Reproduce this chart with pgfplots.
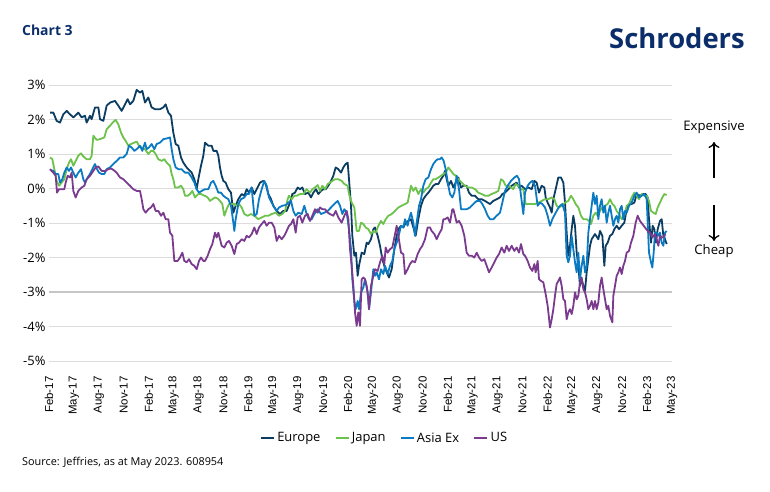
\documentclass[border=0pt]{standalone}
\usepackage{fontspec}
\setmainfont{Open Sans}
\newfontfamily\arialf{Liberation Sans}
\usepackage{pgfplots}
\pgfplotsset{compat=1.18}
\usetikzlibrary{arrows.meta}
\definecolor{cEurope}{HTML}{0B3D63}
\definecolor{cJapan}{HTML}{6CC24A}
\definecolor{cAsia}{HTML}{0A7AC2}
\definecolor{cUS}{HTML}{7A3B8F}
\definecolor{cNavy}{HTML}{0B2E6B}
\definecolor{cGrid}{HTML}{DCDCDC}
\begin{document}
\begin{tikzpicture}
\path (0bp,0bp) rectangle (770bp,492bp);
\node[anchor=west,font=\bfseries\fontsize{14}{16}\selectfont,text=cNavy,inner sep=0] at (22bp,462bp) {Chart 3};
\node[anchor=east,font=\bfseries\fontsize{27.5}{32}\selectfont,text=cNavy,inner sep=0] at (745bp,454bp) {Schroders};
\node[anchor=west,font=\fontsize{10.9}{13}\selectfont,inner sep=0] at (22bp,29bp) {Source: Jeffries, as at May 2023. 608954};
\node[font=\fontsize{13.2}{15}\selectfont,inner sep=0] at (714bp,365bp) {Expensive};
\node[font=\fontsize{13.2}{15}\selectfont,inner sep=0] at (714bp,241bp) {Cheap};
\draw[line width=1.3bp,-{To[length=6bp,width=11bp]}] (714bp,314bp) -- (714bp,350bp);
\draw[line width=1.3bp,-{To[length=6bp,width=11bp]}] (714bp,287bp) -- (714bp,251bp);
\begin{axis}[
  at={(49bp,131bp)}, anchor=south west,
  width=623bp, height=276bp, scale only axis,
  xmin=0, xmax=1869, ymin=-5, ymax=3,
  axis line style={draw=none},
  tick style={draw=none},
  ytick={-5,-4,-3,-2,-1,0,1,2,3},
  yticklabels={-5\%,-4\%,-3\%,-2\%,-1\%,0\%,1\%,2\%,3\%},
  yticklabel style={font=\fontsize{13}{15}\selectfont,anchor=east},
  ymajorgrids, grid style={cGrid,line width=1bp},
  extra y ticks={-3}, extra y tick labels={},
  extra y tick style={grid style={cGrid!90!black,line width=1.8bp}},
  xtick={0,74.76,149.52,224.28,299.04,373.8,448.56,523.32,598.08,672.84,747.6,822.36,897.12,971.88,1046.64,1121.4,1196.16,1270.92,1345.68,1420.44,1495.2,1569.96,1644.72,1719.48,1794.24,1869},
  xticklabels={Feb-17,May-17,Aug-17,Nov-17,Feb-17,May-18,Aug-18,Nov-18,Feb-19,May-19,Aug-19,Nov-19,Feb-20,May-20,Aug-20,Nov-20,Feb-21,May-21,Aug-21,Nov-21,Feb-22,May-22,Aug-22,Nov-22,Feb-23,May-23},
  xticklabel style={font=\arialf\fontsize{11.5}{13}\selectfont,rotate=90,anchor=east},
  xticklabel shift={12bp},
  every axis plot/.append style={line width=1.8bp, line join=round},
  legend style={at={(0.5385,-0.279)},anchor=center,draw=none,fill=none,font=\fontsize{13}{15}\selectfont,
    /tikz/every even column/.append style={column sep=12bp}},
  legend columns=4,
  legend image code/.code={\draw[#1,line width=2.4bp] (0bp,0bp) -- (13bp,0bp);},
  clip=false,
]
\addplot[cEurope] coordinates {
(3,2.20)(13,2.20)(23,1.96)(33,1.91)(43,2.15)(53,2.25)(63,2.15)(73,2.06)(83,2.15)(88,2.20)(98,2.06)(108,2.11)(113,1.91)(123,2.11)(128,2.01)(138,2.35)(148,2.35)(153,2.01)(163,1.96)(173,2.40)(183,2.49)(198,2.54)(208,2.40)(218,2.25)(228,2.44)(236,2.59)(243,2.44)(253,2.54)(263,2.86)(273,2.78)(280,2.83)(288,2.49)(298,2.64)(308,2.35)(318,2.30)(333,2.30)(343,2.35)(350,2.44)(358,2.20)(366,2.11)(373,1.62)(380,1.29)(388,1.24)(396,0.90)(403,0.75)(413,0.61)(428,0.46)(436,0.27)(443,-0.02)(448,0.27)(456,0.66)(463,0.95)
(468,1.33)(478,1.24)(488,1.24)(493,1.09)(503,1.09)(508,0.95)(513,0.61)(518,0.37)(523,0.22)(530,0.17)(538,-0.02)(546,-0.12)(553,-0.70)(560,-0.50)(568,-0.31)(578,-0.16)(586,-0.21)(593,-0.02)(600,-0.12)(608,0.03)(616,-0.16)(623,-0.02)(633,0.17)(643,0.22)(650,0.13)(658,-0.16)(666,-0.31)(673,-0.50)(683,-0.65)(693,-0.74)(703,-0.65)(713,-0.65)(723,-0.41)(730,-0.16)(738,-0.12)(746,0.03)(753,-0.02)(760,0.03)(768,-0.16)(778,-0.12)(786,-0.26)(793,-0.12)(801,-0.02)(808,-0.16)(816,-0.07)(823,-0.02)(830,-0.02)(838,0.08)(846,0.22)(853,0.37)(860,0.61)(868,0.56)(876,0.46)(883,0.61)(890,0.71)(896,0.75)(900,0.27)(906,-0.50)(910,-1.37)(916,-1.95)(921,-1.86)(926,-2.53)(930,-2.24)(934,-2.05)(938,-1.86)(946,-1.90)(953,-1.57)
(958,-1.61)(966,-1.47)(973,-1.18)(978,-1.13)(986,-1.37)(993,-1.66)(1000,-2.05)(1006,-2.24)(1013,-2.43)(1020,-2.58)(1028,-2.34)(1036,-1.76)(1043,-1.37)(1048,-1.18)(1056,-1.08)(1063,-1.13)(1070,-0.99)(1078,-0.94)(1086,-0.89)(1093,-1.13)(1100,-1.37)(1108,-0.89)(1116,-0.50)(1123,-0.31)(1130,-0.21)(1138,-0.12)(1146,-0.02)(1153,0.08)(1160,0.13)(1168,0.13)(1176,0.27)(1183,0.37)(1188,0.51)(1193,0.27)(1198,0.08)(1206,0.22)(1213,0.03)(1220,0.17)(1228,0.32)(1236,0.03)(1243,0.08)(1253,0.08)(1260,-0.12)(1268,-0.21)(1278,-0.21)(1288,-0.31)(1298,-0.31)(1308,-0.36)(1316,-0.41)(1323,-0.45)(1333,-0.36)(1343,-0.31)(1353,-0.26)(1360,-0.16)(1368,-0.12)(1378,-0.02)(1388,0.08)(1396,0.13)(1403,0.17)(1410,0.03)(1418,0.08)(1428,-0.02)
(1438,0.03)(1448,-0.02)(1456,0.22)(1463,0.17)(1470,-0.12)(1478,0.08)(1486,0.03)(1490,-0.26)(1496,-0.41)(1503,-0.55)(1508,-0.70)(1513,-0.31)(1520,-0.02)(1528,0.32)(1536,0.32)(1543,0.17)(1548,-0.41)(1553,-1.28)(1558,-1.95)(1563,-1.66)(1568,-1.18)(1573,-0.79)(1578,-1.08)(1583,-1.86)(1588,-2.24)(1593,-2.82)(1598,-2.63)(1603,-2.82)(1608,-2.97)(1613,-2.43)(1618,-2.05)(1623,-1.66)(1628,-1.47)(1638,-1.32)(1648,-1.47)(1653,-1.23)(1660,-1.37)(1666,-2.24)(1670,-1.66)(1676,-1.57)(1683,-1.37)(1690,-1.32)(1696,-1.18)(1703,-1.08)(1710,-1.18)(1718,-1.08)(1726,-0.99)(1733,-0.60)(1740,-0.45)(1748,-0.45)(1756,-0.41)(1763,-0.16)(1773,-0.21)(1783,-0.16)(1790,-0.16)(1796,-0.26)(1800,-0.89)(1806,-1.57)(1811,-1.08)(1816,-1.18)(1821,-1.57)(1826,-1.18)(1833,-0.94)(1838,-0.89)(1843,-1.37)(1848,-1.47)(1853,-1.61)
};
\addlegendentry{Europe}
\addplot[cJapan] coordinates {
(3,0.90)(10,0.85)(16,0.56)(23,0.22)(30,0.08)(38,0.17)(46,0.27)(53,0.56)(60,0.75)(66,0.85)(73,0.66)(80,0.80)(88,0.95)(96,1.02)(103,0.93)(113,0.85)(123,0.85)(128,0.95)(133,1.53)(143,1.41)(153,1.43)(166,1.48)(173,1.72)(183,1.82)(191,1.91)(200,1.99)(208,1.86)(216,1.62)(223,1.48)(230,1.38)(238,1.24)(246,1.29)(256,1.33)(263,1.36)(270,1.24)(278,1.19)(288,1.14)(298,1.00)(306,1.09)(313,1.09)(320,1.00)(328,0.85)(338,0.80)(346,0.85)(353,0.75)(363,0.66)(368,0.42)(373,0.27)(378,0.03)(388,0.03)(396,0.08)(403,-0.02)(408,-0.21)(416,-0.21)(423,-0.16)(430,-0.07)(438,-0.26)(448,-0.16)(456,-0.16)(466,-0.21)
(468,-0.21)(476,-0.26)(483,-0.36)(490,-0.31)(498,-0.26)(506,-0.29)(513,-0.36)(520,-0.45)(526,-0.79)(533,-0.60)(540,-0.45)(548,-0.45)(556,-0.45)(563,-0.50)(570,-0.45)(578,-0.55)(586,-0.74)(596,-0.79)(606,-0.74)(616,-0.79)(628,-0.89)(638,-0.84)(648,-0.79)(658,-0.79)(668,-0.74)(680,-0.70)(690,-0.79)(700,-0.74)(708,-0.65)(716,-0.31)(720,-0.21)(728,-0.31)(736,-0.21)(743,-0.21)(753,-0.16)(763,-0.16)(773,-0.02)(783,-0.12)(790,-0.02)(798,0.03)(806,0.10)(813,-0.07)(820,0.08)(828,-0.02)(836,0.13)(843,0.17)(850,0.22)(858,0.27)(868,0.27)(878,0.22)(886,0.13)(896,0.08)(900,-0.16)(908,-0.41)(916,-0.55)(923,-1.23)(930,-1.23)(936,-0.99)(943,-1.03)(950,-1.13)
(958,-1.18)(966,-1.32)(973,-1.23)(980,-1.28)(988,-1.08)(996,-0.94)(1003,-1.03)(1010,-0.89)(1018,-0.79)(1028,-0.74)(1038,-0.65)(1048,-0.55)(1058,-0.50)(1068,-0.45)(1076,-0.41)(1086,0.08)(1093,-0.07)(1100,0.03)(1108,-0.16)(1116,-0.02)(1123,-0.12)(1130,-0.02)(1138,0.03)(1146,0.17)(1153,0.27)(1160,0.27)(1168,0.32)(1176,0.37)(1183,0.42)(1190,0.46)(1198,0.61)(1206,0.51)(1213,0.42)(1220,0.37)(1228,0.27)(1238,0.17)(1248,0.08)(1258,0.03)(1268,0.03)(1278,-0.02)(1288,-0.12)(1298,-0.16)(1308,-0.21)(1318,-0.21)(1328,-0.16)(1338,-0.12)(1348,-0.07)(1356,0.27)(1363,0.22)(1370,0.08)(1378,0.08)(1386,0.03)(1393,-0.02)(1400,0.13)(1408,0.08)(1416,-0.02)(1423,-0.02)(1430,-0.45)
(1438,-0.45)(1448,-0.45)(1458,-0.45)(1468,-0.41)(1478,-0.36)(1488,-0.31)(1498,-0.31)(1508,-0.26)(1516,-0.31)(1523,-0.50)(1530,-0.55)(1538,-0.50)(1548,-0.41)(1558,-0.36)(1566,-0.21)(1573,-0.31)(1580,-0.45)(1588,-0.55)(1596,-0.79)(1603,-0.89)(1613,-0.89)(1620,-0.94)(1626,-1.03)(1633,-0.79)(1640,-0.70)(1646,-0.79)(1653,-0.65)(1660,-0.55)(1668,-0.50)(1676,-0.45)(1683,-0.31)(1690,-0.45)(1696,-0.50)(1703,-0.65)(1710,-0.74)(1718,-0.89)(1726,-0.79)(1733,-0.50)(1740,-0.45)(1748,-0.26)(1756,-0.12)(1763,-0.21)(1770,-0.31)(1778,-0.16)(1786,-0.21)(1793,-0.21)(1800,-0.36)(1806,-0.65)(1813,-0.70)(1820,-0.74)(1826,-0.55)(1833,-0.41)(1840,-0.26)(1846,-0.16)(1853,-0.19)
};
\addlegendentry{Japan}
\addplot[cAsia] coordinates {
(3,0.54)(13,0.51)(20,0.42)(28,0.42)(33,0.17)(40,0.27)(46,0.46)(53,0.61)(60,0.51)(66,0.61)(73,0.46)(80,0.32)(88,0.46)(96,0.56)(103,0.27)(108,0.17)(116,0.32)(123,0.42)(130,0.56)(138,0.71)(143,0.58)(150,0.46)(158,0.42)(166,0.42)(173,0.56)(183,0.61)(193,0.71)(203,0.80)(213,0.90)(223,0.90)(233,1.00)(240,1.24)(248,1.19)(256,1.09)(263,1.14)(273,1.24)(280,1.09)(288,1.33)(293,1.14)(300,1.19)(308,1.29)(316,1.14)(323,1.29)(333,1.33)(343,1.43)(353,1.45)(363,1.48)(368,1.14)(373,0.85)(380,0.61)(388,0.56)(398,0.56)(408,0.46)(418,0.46)(428,0.32)(436,0.17)(443,-0.02)(450,-0.12)(458,-0.07)
(468,-0.02)(478,-0.02)(486,0.17)(493,0.22)(500,0.08)(508,-0.12)(516,-0.12)(523,-0.21)(530,-0.26)(538,-0.31)(546,-0.50)(553,-0.99)(556,-1.23)(560,-0.89)(568,-0.45)(576,-0.31)(586,-0.26)(593,-0.16)(600,-0.16)(608,0.03)(616,-0.79)(623,-0.74)(630,-0.31)(638,-0.02)(646,0.22)(653,0.08)(660,-0.26)(668,-0.41)(676,-0.55)(683,-0.65)(690,-0.55)(700,-0.50)(710,-0.48)(718,-0.41)(726,-0.36)(733,-0.65)(740,-0.79)(748,-0.70)(758,-0.74)(766,-0.50)(773,-0.74)(780,-0.89)(788,-0.89)(796,-0.74)(806,-0.60)(816,-0.74)(826,-0.70)(836,-0.65)(846,-0.55)(856,-0.45)(866,-0.36)(873,-0.50)(880,-0.74)(886,-0.60)(893,-0.70)(900,-1.18)(906,-1.76)(910,-2.63)(916,-3.26)(920,-3.50)(926,-3.26)(930,-3.50)(936,-3.01)(943,-2.87)
(948,-2.63)(956,-3.01)(960,-3.50)(966,-3.01)(973,-2.34)(978,-2.53)(983,-2.43)(990,-2.63)(996,-2.34)(1003,-2.48)(1008,-2.24)(1016,-2.48)(1023,-2.24)(1030,-2.10)(1036,-1.76)(1043,-1.57)(1048,-1.42)(1056,-1.08)(1063,-1.13)(1068,-0.89)(1076,-1.08)(1080,-0.89)(1086,-0.70)(1093,-0.99)(1098,-1.37)(1103,-0.99)(1110,-0.50)(1116,-0.31)(1123,0.08)(1130,0.27)(1138,0.32)(1146,0.56)(1153,0.71)(1160,0.80)(1166,0.85)(1173,0.85)(1178,0.90)(1184,0.80)(1190,0.56)(1198,0.08)(1203,-0.16)(1210,-0.26)(1216,-0.12)(1223,0.37)(1230,-0.02)(1236,-0.60)(1243,-0.60)(1253,-0.60)(1263,-0.55)(1273,-0.45)(1283,-0.36)(1293,-0.36)(1300,-0.45)(1308,-0.60)(1316,-0.79)(1323,-0.89)(1333,-0.89)(1343,-0.79)(1353,-0.70)(1360,-0.41)(1368,-0.07)(1376,0.08)(1386,0.22)(1396,0.32)(1404,0.37)(1410,0.27)(1416,-0.21)(1423,-0.74)
(1428,-0.12)(1436,0.08)(1443,0.17)(1450,0.22)(1458,0.08)(1466,-0.50)(1473,-0.41)(1480,-0.45)(1488,-0.55)(1496,-0.79)(1503,-1.08)(1510,-0.89)(1518,-0.74)(1526,-0.60)(1533,-0.50)(1540,-0.45)(1548,-0.70)(1553,-1.95)(1558,-2.14)(1563,-1.95)(1568,-1.37)(1573,-1.76)(1578,-2.14)(1583,-2.43)(1588,-1.86)(1593,-2.63)(1598,-2.24)(1603,-1.95)(1608,-2.43)(1613,-2.24)(1618,-1.28)(1623,-0.89)(1628,-0.50)(1633,-0.12)(1638,-0.45)(1643,-0.21)(1648,-0.89)(1653,-0.50)(1658,-0.31)(1663,-0.70)(1668,-0.50)(1673,-0.99)(1678,-0.70)(1683,-0.50)(1688,-0.79)(1693,-1.08)(1698,-0.89)(1703,-0.79)(1708,-0.99)(1713,-0.60)(1718,-0.50)(1723,-0.89)(1728,-0.65)(1733,-0.70)(1740,-0.50)(1748,-0.41)(1756,-0.21)(1763,-0.12)(1770,-0.26)(1778,-0.21)(1786,-0.16)(1793,-0.31)(1800,-1.86)(1806,-2.14)(1810,-2.29)(1814,-1.86)(1818,-1.28)(1823,-1.28)(1828,-1.37)(1833,-1.28)(1838,-1.57)(1843,-1.66)(1848,-1.28)(1853,-1.23)
};
\addlegendentry{Asia Ex}
\addplot[cUS] coordinates {
(3,0.56)(13,0.46)(20,0.37)(24,-0.12)(30,-0.02)(38,-0.02)(46,-0.02)(50,0.17)(56,0.37)(63,0.32)(68,0.46)(73,-0.07)(80,-0.26)(88,-0.07)(98,0.03)(106,0.08)(113,0.27)(123,0.37)(133,0.51)(140,0.61)(148,0.64)(158,0.51)(168,0.51)(178,0.56)(186,0.58)(193,0.54)(203,0.46)(213,0.32)(223,0.27)(233,0.17)(243,0.08)(253,-0.02)(263,-0.07)(273,-0.07)(278,-0.31)(283,-0.60)(290,-0.70)(298,-0.60)(306,-0.55)(313,-0.45)(320,-0.65)(328,-0.65)(336,-0.79)(343,-0.70)(350,-0.89)(358,-0.89)(363,-1.28)(370,-1.37)(376,-2.10)(386,-2.10)(393,-2.00)(400,-1.86)(406,-2.10)(413,-2.14)(420,-2.05)(428,-2.19)(436,-2.24)(443,-2.34)(450,-2.10)(456,-2.00)(463,-2.10)
(468,-2.10)(476,-1.95)(483,-1.76)(490,-1.61)(498,-1.28)(503,-1.42)(508,-1.28)(513,-1.47)(518,-1.66)(526,-1.71)(533,-1.57)(540,-1.52)(548,-1.66)(556,-1.90)(563,-1.61)(570,-1.57)(578,-1.47)(586,-1.52)(593,-1.37)(600,-1.42)(608,-1.32)(616,-1.13)(623,-1.32)(630,-1.13)(638,-1.03)(646,-0.94)(653,-1.08)(660,-0.99)(668,-0.99)(676,-1.13)(683,-1.52)(690,-1.37)(698,-1.47)(706,-1.37)(713,-1.23)(720,-1.08)(726,-1.03)(733,-0.89)(740,-1.28)(746,-0.84)(753,-0.79)(760,-0.99)(768,-0.79)(776,-0.74)(783,-0.94)(790,-0.79)(798,-0.60)(806,-0.70)(813,-0.55)(820,-0.60)(828,-0.60)(836,-0.70)(843,-0.74)(853,-0.79)(860,-0.65)(868,-0.84)(878,-0.99)(886,-0.79)(893,-0.65)(898,-0.89)(903,-1.76)(908,-2.24)(913,-2.82)(918,-3.59)(923,-3.98)(928,-3.59)(933,-3.98)(938,-2.63)(943,-2.58)
(948,-2.63)(953,-2.82)(958,-3.21)(960,-3.50)(966,-2.82)(973,-2.53)(978,-2.34)(986,-2.39)(993,-2.14)(1000,-1.95)(1006,-2.19)(1010,-1.71)(1016,-1.86)(1023,-1.76)(1030,-1.71)(1036,-1.42)(1043,-1.08)(1048,-1.37)(1056,-1.86)(1063,-1.90)(1068,-2.48)(1076,-2.34)(1083,-2.19)(1090,-2.10)(1098,-2.14)(1106,-1.90)(1113,-1.76)(1120,-1.66)(1128,-1.47)(1136,-1.13)(1143,-1.13)(1148,-1.23)(1156,-1.32)(1163,-1.47)(1170,-1.32)(1178,-1.18)(1183,-0.89)(1188,-0.89)(1196,-0.84)(1203,-0.99)(1210,-0.60)(1213,-0.60)(1218,-0.79)(1223,-0.99)(1230,-0.94)(1238,-1.08)(1246,-1.37)(1253,-1.86)(1260,-1.95)(1268,-1.95)(1276,-2.00)(1283,-1.86)(1290,-2.00)(1298,-2.10)(1306,-2.05)(1313,-2.24)(1320,-2.43)(1328,-2.29)(1336,-2.14)(1343,-2.00)(1350,-1.90)(1358,-1.71)(1366,-1.86)(1373,-1.66)(1380,-1.81)(1388,-1.66)(1396,-1.81)(1403,-1.71)(1410,-1.86)(1416,-1.61)(1423,-1.90)
(1428,-1.95)(1436,-2.10)(1443,-2.29)(1450,-2.39)(1456,-2.19)(1460,-2.43)(1466,-2.10)(1470,-2.63)(1476,-2.68)(1483,-2.72)(1490,-3.06)(1496,-3.40)(1503,-4.03)(1508,-3.79)(1513,-3.50)(1518,-3.11)(1523,-2.77)(1528,-2.68)(1533,-2.58)(1538,-2.82)(1543,-3.21)(1548,-3.26)(1553,-3.79)(1558,-3.59)(1563,-3.50)(1568,-3.64)(1573,-3.40)(1578,-3.01)(1583,-3.21)(1588,-3.11)(1593,-2.72)(1598,-2.58)(1603,-2.92)(1608,-3.01)(1613,-3.21)(1618,-3.50)(1623,-3.40)(1628,-3.26)(1633,-3.50)(1638,-3.26)(1643,-3.50)(1648,-3.30)(1653,-2.82)(1658,-2.58)(1663,-2.92)(1668,-3.21)(1673,-3.50)(1678,-3.40)(1683,-3.69)(1690,-3.88)(1693,-3.11)(1698,-2.82)(1703,-2.53)(1708,-2.43)(1713,-2.29)(1718,-2.48)(1723,-2.24)(1728,-2.10)(1733,-1.86)(1740,-1.81)(1746,-1.57)(1753,-1.37)(1760,-0.99)(1766,-0.79)(1773,-0.94)(1780,-1.03)(1788,-1.13)(1796,-1.23)(1803,-1.28)(1810,-1.42)(1818,-1.32)(1823,-1.47)(1828,-1.66)(1833,-1.37)(1838,-1.42)(1843,-1.42)(1848,-1.32)
};
\addlegendentry{US}
\end{axis}
\end{tikzpicture}
\end{document}
